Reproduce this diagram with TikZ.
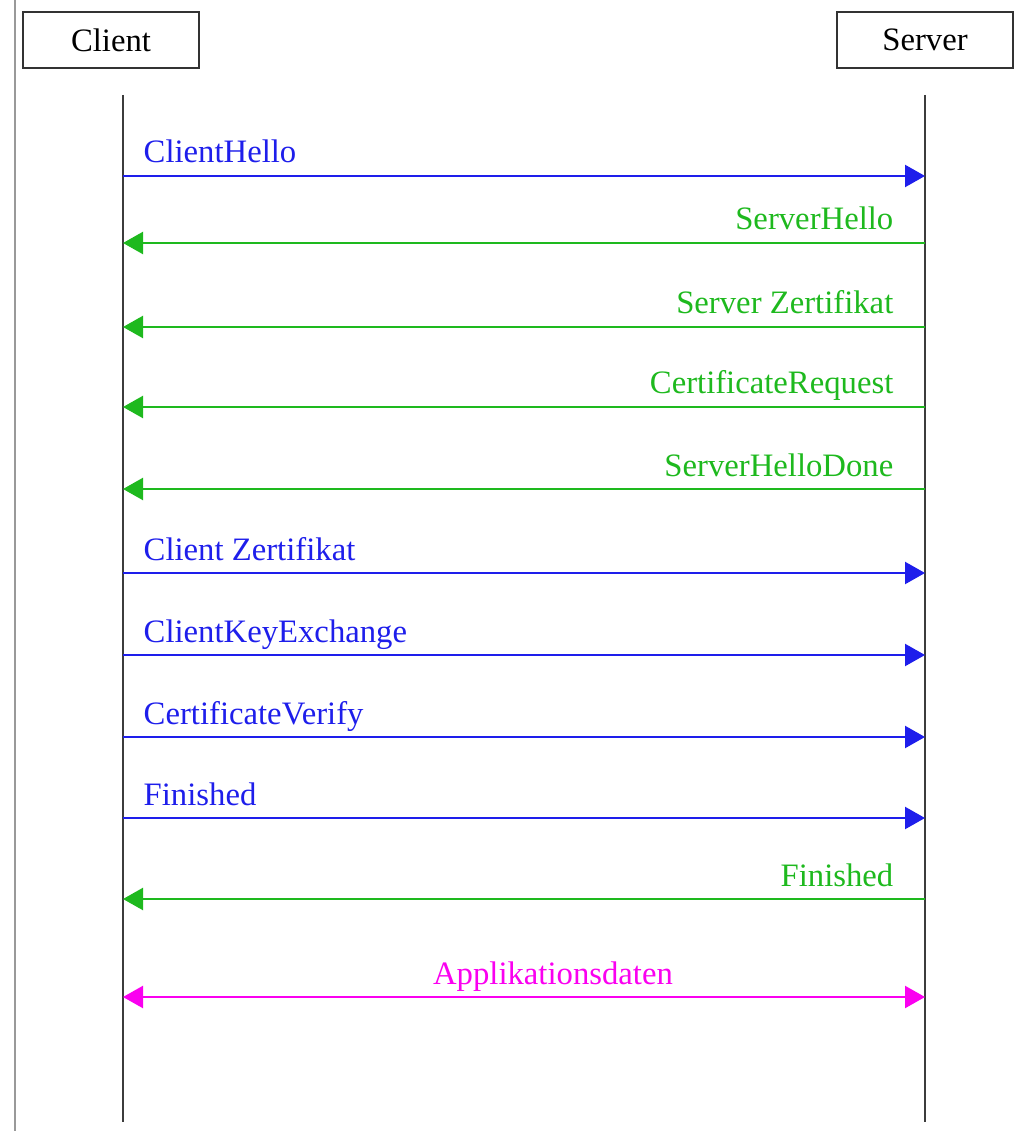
\documentclass[tikz,border=0pt]{standalone}
\usepackage{fontspec}
\setmainfont{Liberation Serif}
\usetikzlibrary{arrows.meta}
\definecolor{msgblue}{RGB}{30,30,235}
\definecolor{msggreen}{RGB}{30,185,30}
\definecolor{msgpink}{RGB}{250,0,240}
\definecolor{lifegray}{RGB}{60,60,60}
\begin{document}
\begin{tikzpicture}[x=0.01cm, y=-0.01cm,
    every node/.style={font=\fontsize{9.3}{11}\selectfont, inner sep=0pt},
    party/.style={draw=black!80, line width=0.6pt, minimum width=1.76cm, minimum height=0.56cm},
    lifeline/.style={draw=lifegray, line width=0.65pt},
    tomsg/.style={line width=0.65pt, -{Triangle[length=2mm, width=2.2mm]}},
    bothmsg/.style={line width=0.65pt, {Triangle[length=2mm, width=2.2mm]}-{Triangle[length=2mm, width=2.2mm]}}
]
\useasboundingbox (0,0) rectangle (1016,1131);

% -------- Rand links --------
\coordinate (rand1) at (15,0);
\coordinate (rand2) at (15,1131);
\draw[black!40, line width=0.3pt] (rand1) -- (rand2);

% -------- Teilnehmer --------
\node[party] (client) at (111,40) {Client};
\node[party] (server) at (925,40) {Server};

\coordinate (ctop) at (123,95);
\coordinate (cbot) at (123,1122);
\coordinate (stop) at (925,95);
\coordinate (sbot) at (925,1122);
\draw[lifeline] (ctop) -- (cbot);
\draw[lifeline] (stop) -- (sbot);

% -------- Nachrichten Client -> Server (blau) --------
\coordinate (c1) at (123,176);  \coordinate (s1) at (925,176);
\node[text=msgblue, anchor=base west] (m1) at (143,163) {ClientHello};
\draw[tomsg, msgblue] (c1) -- (s1);

\coordinate (c6) at (123,573);  \coordinate (s6) at (925,573);
\node[text=msgblue, anchor=base west] (m6) at (143,560) {Client Zertifikat};
\draw[tomsg, msgblue] (c6) -- (s6);

\coordinate (c7) at (123,655);  \coordinate (s7) at (925,655);
\node[text=msgblue, anchor=base west] (m7) at (143,642) {ClientKeyExchange};
\draw[tomsg, msgblue] (c7) -- (s7);

\coordinate (c8) at (123,737);  \coordinate (s8) at (925,737);
\node[text=msgblue, anchor=base west] (m8) at (143,724) {CertificateVerify};
\draw[tomsg, msgblue] (c8) -- (s8);

\coordinate (c9) at (123,818);  \coordinate (s9) at (925,818);
\node[text=msgblue, anchor=base west] (m9) at (143,805) {Finished};
\draw[tomsg, msgblue] (c9) -- (s9);

% -------- Nachrichten Server -> Client (gruen) --------
\coordinate (c2) at (123,243);  \coordinate (s2) at (925,243);
\node[text=msggreen, anchor=base east] (m2) at (894,230) {ServerHello};
\draw[tomsg, msggreen] (s2) -- (c2);

\coordinate (c3) at (123,327);  \coordinate (s3) at (925,327);
\node[text=msggreen, anchor=base east] (m3) at (894,314) {Server Zertifikat};
\draw[tomsg, msggreen] (s3) -- (c3);

\coordinate (c4) at (123,407);  \coordinate (s4) at (925,407);
\node[text=msggreen, anchor=base east] (m4) at (894,394) {CertificateRequest};
\draw[tomsg, msggreen] (s4) -- (c4);

\coordinate (c5) at (123,489);  \coordinate (s5) at (925,489);
\node[text=msggreen, anchor=base east] (m5) at (894,476) {ServerHelloDone};
\draw[tomsg, msggreen] (s5) -- (c5);

\coordinate (c10) at (123,899);  \coordinate (s10) at (925,899);
\node[text=msggreen, anchor=base east] (m10) at (894,886) {Finished};
\draw[tomsg, msggreen] (s10) -- (c10);

% -------- Applikationsdaten (beidseitig) --------
\coordinate (c11) at (123,997);  \coordinate (s11) at (925,997);
\node[text=msgpink, anchor=base] (m11) at (553,984) {Applikationsdaten};
\draw[bothmsg, msgpink] (c11) -- (s11);
\end{tikzpicture}
\end{document}
